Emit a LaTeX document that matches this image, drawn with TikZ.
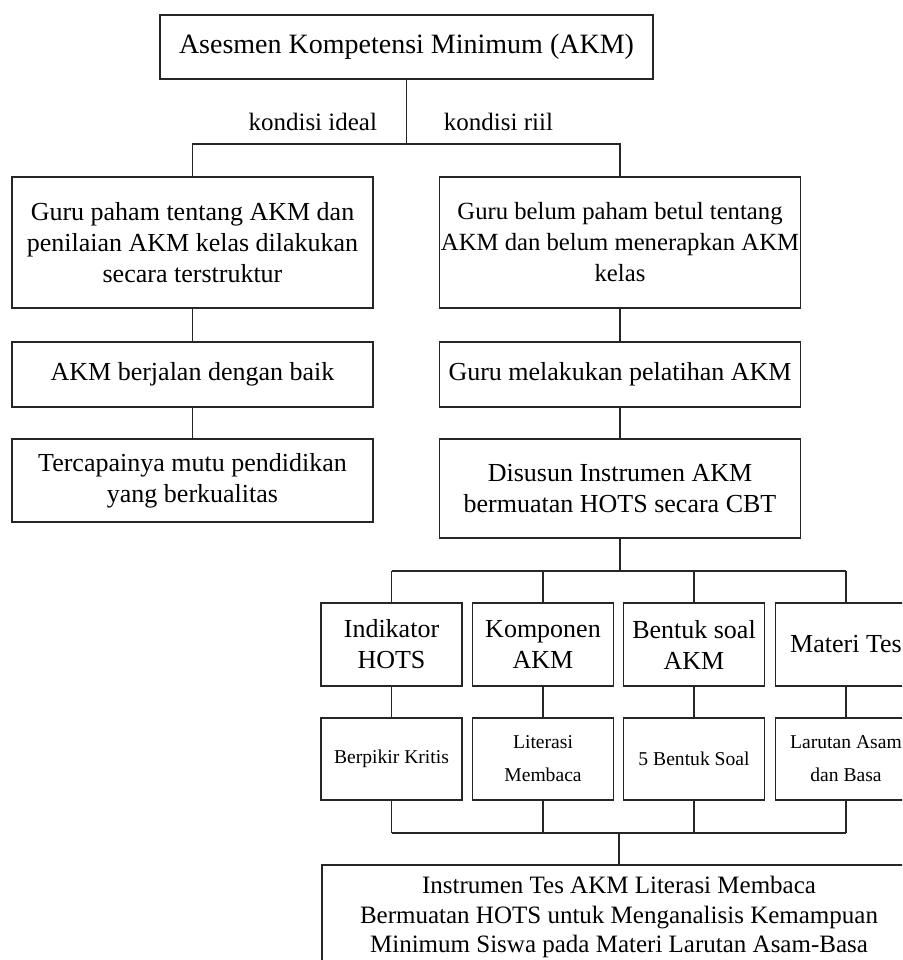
\documentclass[tikz,border=0pt]{standalone}
\usepackage{fontspec}
\setmainfont{Liberation Serif}
\usetikzlibrary{positioning,calc}

\begin{document}
\begin{tikzpicture}[x=1pt,y=-1pt,line width=1.3pt,draw=black!85,
    every node/.style={font=\fontsize{26}{31}\selectfont},
    box/.style={draw,align=center,inner sep=0pt},
    colbox/.style={box,minimum width=361pt},
    hdbox/.style={box,minimum width=141pt,minimum height=83pt},
    itembox/.style={box,minimum width=141pt,minimum height=82pt,
      font=\fontsize{19.6}{33}\selectfont},
    lbl/.style={font=\fontsize{25}{30}\selectfont}]
  \useasboundingbox (0,0) rectangle (902,960);
  \clip (0,0) rectangle (902,960);
  % top
  \node[box,minimum width=493pt,minimum height=64pt,
        font=\fontsize{28}{33}\selectfont] (akm) at (406.5,47)
    {Asesmen Kompetensi Minimum (AKM)};
  \node[lbl,anchor=east] (ideal) at (381,122) {kondisi ideal};
  \node[lbl,anchor=west] (riil) at (440,122) {kondisi riil};
  \coordinate (split) at (406.5,144);
  % left column
  \node[colbox,minimum height=131pt] (ideal1) at (192.5,242.5)
    {Guru paham tentang AKM dan\\penilaian AKM kelas dilakukan\\secara terstruktur};
  \node[colbox,minimum height=65pt] (ideal2) at (192.5,374.5)
    {AKM berjalan dengan baik};
  \node[colbox,minimum height=83pt] (ideal3) at (192.5,480.5)
    {Tercapainya mutu pendidikan\\yang berkualitas};
  % right column
  \node[colbox,minimum height=131pt,font=\fontsize{24.7}{31}\selectfont]
    (riil1) at (620,242.5)
    {Guru belum paham betul tentang\\AKM dan belum menerapkan AKM\\kelas};
  \node[colbox,minimum height=65pt] (riil2) at (620,374.5)
    {Guru melakukan pelatihan AKM};
  \node[colbox,minimum height=99pt] (riil3) at (620,488.5)
    {Disusun Instrumen AKM\\bermuatan HOTS secara CBT};
  \coordinate (split2) at (620,571);
  \coordinate (merge) at (619,833);
  % four aspects
  \foreach \i/\x/\hdr/\itm in {
      1/391.5/{Indikator\\HOTS}/{Berpikir Kritis},
      2/543/{Komponen\\AKM}/{Literasi\\Membaca},
      3/694/{Bentuk soal\\AKM}/{5 Bentuk Soal},
      4/846/{Materi Tes}/{Larutan Asam\\dan Basa}}{
    \node[hdbox] (asp\i) at (\x,644.5) {\hdr};
    \node[itembox] (isi\i) at (\x,759) {\itm};
    \draw (asp\i.north) -- (asp\i.north |- split2);
    \draw (asp\i.south) -- (isi\i.north);
    \draw (isi\i.south) -- (isi\i.south |- merge);
  }
  \node[box,minimum width=594pt,minimum height=104pt,
        font=\fontsize{25}{29.5}\selectfont] (hasil) at (619,917)
    {Instrumen Tes AKM Literasi Membaca\\Bermuatan HOTS untuk Menganalisis Kemampuan\\Minimum Siswa pada Materi Larutan Asam-Basa};
  % connectors
  \draw (akm.south) -- (split);
  \draw (ideal1.north) |- (split) -| (riil1.north);
  \draw (ideal1.south) -- (ideal2.north);
  \draw (ideal2.south) -- (ideal3.north);
  \draw (riil1.south) -- (riil2.north);
  \draw (riil2.south) -- (riil3.north);
  \draw (riil3.south) -- (split2);
  \draw (asp1.north |- split2) -- (asp4.north |- split2);
  \draw (isi1.south |- merge) -- (isi4.south |- merge);
  \draw (merge) -- (hasil.north);
\end{tikzpicture}
\end{document}
